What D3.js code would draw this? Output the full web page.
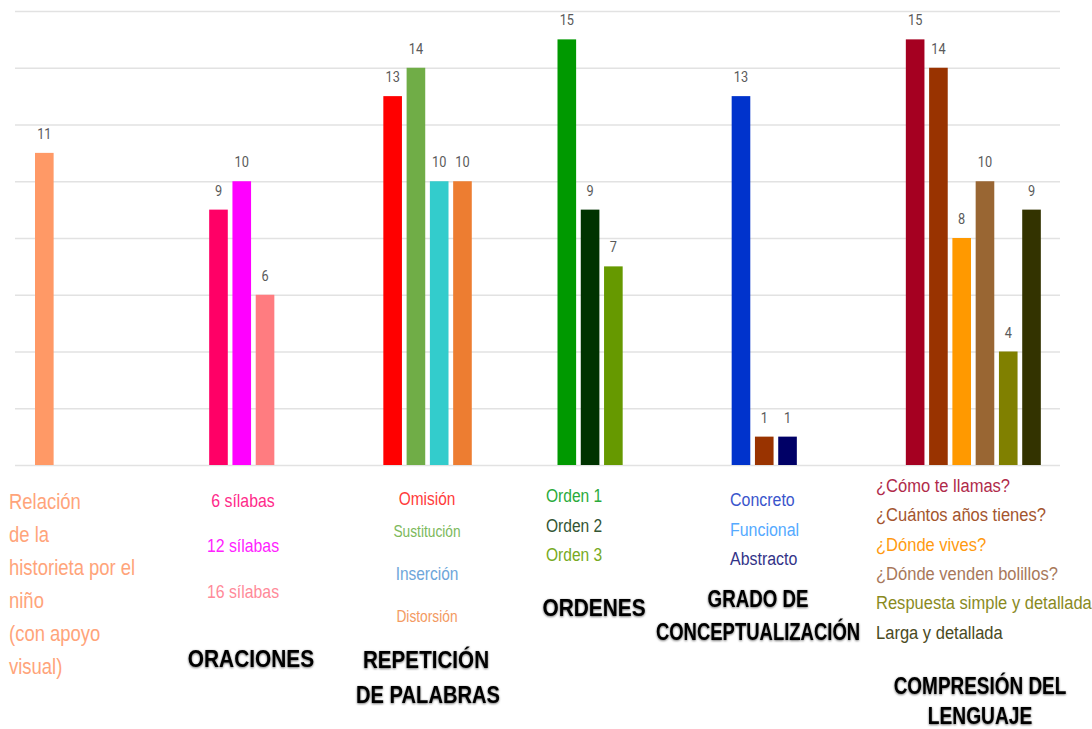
<!DOCTYPE html>
<html><head><meta charset="utf-8">
<script src="https://cdn.jsdelivr.net/npm/d3@7"></script>
<style>html,body{margin:0;padding:0;background:#fff;}svg{display:block;}</style>
</head><body>
<svg id="chart" width="1092" height="729"></svg>
<script>
// ---- data ----
const categories = ["Relación de la historieta por el niño (con apoyo visual)", "Oraciones", "Repetición de palabras", "Ordenes", "Grado de conceptualización", "Compresión del lenguaje"];
const relacionValues = [11];
const oracionesValues = [9, 10, 6];
const repeticionValues = [13, 14, 10, 10];
const ordenesValues = [15, 9, 7];
const gradoValues = [13, 1, 1];
const comprensionValues = [15, 14, 8, 10, 4, 9];

const relacionColors = ["#FF9966"];
const oracionesColors = ["#FF0066", "#FF00FF", "#FF7C80"];
const repeticionColors = ["#FF0000", "#70AD47", "#33CCCC", "#ED7D31"];
const ordenesColors = ["#009900", "#003300", "#669900"];
const gradoColors = ["#0033CC", "#993300", "#000066"];
const comprensionColors = ["#A50021", "#993300", "#FF9900", "#996633", "#808000", "#333300"];

const relacionLabel = ["Relación", "de la", "historieta por el", "niño", "(con apoyo", "visual)"];
const oracionesLabels = ["6 sílabas", "12 sílabas", "16 sílabas"];
const repeticionLabels = ["Omisión", "Sustitución", "Inserción", "Distorsión"];
const ordenesLabels = ["Orden 1", "Orden 2", "Orden 3"];
const gradoLabels = ["Concreto", "Funcional", "Abstracto"];
const comprensionLabels = ["¿Cómo te llamas?", "¿Cuántos años tienes?", "¿Dónde vives?", "¿Dónde venden bolillos?", "Respuesta simple y detallada", "Larga y detallada"];

const titles = [[], ["ORACIONES"], ["REPETICIÓN", "DE PALABRAS"], ["ORDENES"], ["GRADO DE", "CONCEPTUALIZACIÓN"], ["COMPRESIÓN DEL", "LENGUAJE"]];
const yTicks = [0, 2, 4, 6, 8, 10, 12, 14, 16];

const groupValues = [relacionValues, oracionesValues, repeticionValues, ordenesValues, gradoValues, comprensionValues];
const groupColors = [relacionColors, oracionesColors, repeticionColors, ordenesColors, gradoColors, comprensionColors];

// ---- layout ----
const svg = d3.select("#chart");
const defs = svg.append("defs");
const f = defs.append("filter").attr("id", "soft").attr("x", "-10%").attr("y", "-30%").attr("width", "120%").attr("height", "160%");
f.append("feDropShadow").attr("dx", 0).attr("dy", 0.8).attr("stdDeviation", 1.1).attr("flood-color", "#000").attr("flood-opacity", 0.6);

const plotLeft = 15, plotRight = 1060, plotTop = 11, plotBottom = 465;
const y = d3.scaleLinear().domain([0, 16]).range([plotBottom, plotTop]);
const x0 = d3.scaleBand().domain(categories).range([plotLeft, plotRight]).padding(0);
const x1 = d3.scaleBand().domain(d3.range(6)).range([20, 155]).paddingInner(0.2).paddingOuter(0);

// gridlines via axis
const yAxis = d3.axisLeft(y).tickValues(yTicks).tickSize(-(plotRight - plotLeft)).tickFormat("");
const ga = svg.append("g").attr("transform", `translate(${plotLeft},0)`).call(yAxis);
ga.select(".domain").remove();
ga.selectAll(".tick line").attr("stroke", "#e2e2e2").attr("stroke-width", 1.6);

// bars
categories.forEach((c, gi) => {
  const g = svg.append("g").attr("transform", `translate(${x0(c)},0)`);
  const vals = groupValues[gi];
  g.selectAll("rect").data(vals).join("rect")
    .attr("x", (d, i) => x1(i))
    .attr("y", d => y(d))
    .attr("width", x1.bandwidth())
    .attr("height", d => y(0) - y(d))
    .attr("fill", (d, i) => groupColors[gi][i]);
  g.selectAll("text.val").data(vals).join("text")
    .attr("class", "val")
    .attr("transform", (d, i) => `translate(${x1(i) + x1.bandwidth() / 2},${y(d) - 14}) scale(0.85,1)`)
    .attr("text-anchor", "middle")
    .style("font-family", "Roboto, 'Open Sans', sans-serif")
    .style("font-size", "15px")
    .attr("fill", "#5a5a5a")
    .text(d => d);
});

// text helper
function txt(x, yy, s, o) {
  const t = svg.append("text")
    .attr("transform", `translate(${x},${yy}) scale(${o.sx || 0.86},1)`)
    .attr("text-anchor", o.anchor || "start")
    .style("font-family", "'Liberation Sans', Arial, sans-serif")
    .style("font-size", o.size + "px")
    .style("font-weight", o.weight || 400)
    .attr("fill", o.color)
    .text(s);
  if (o.filter) t.attr("filter", o.filter);
  return t;
}
function title(x, yy, s, sx) {
  return txt(x, yy, s, {size: 24, weight: 700, color: "#000", anchor: "middle", sx: sx, filter: "url(#soft)"});
}

// group 1 label
relacionLabel.forEach((s, i) => txt(9, 509 + i * 33, s, {size: 22, color: "#FFA47A", sx: 0.84}));

// group 2
const orColors = ["#FF2A8A", "#FF22FF", "#FF8A99"];
const orY = [507, 552, 598];
oracionesLabels.forEach((s, i) => txt(243, orY[i], s, {size: 18, color: orColors[i], anchor: "middle", sx: 0.88}));
title(251, 667, titles[1][0], 0.87);

// group 3
const repColors = ["#FF3B3B", "#7DB95C", "#6EA6DA", "#F39A62"];
const repY = [505, 537, 580, 622];
const repSize = [18, 16, 18, 16];
repeticionLabels.forEach((s, i) => txt(427, repY[i], s, {size: repSize[i], color: repColors[i], anchor: "middle", sx: 0.86}));
title(426, 668, titles[2][0], 0.86);
title(428, 703, titles[2][1], 0.84);

// group 4
const ordColors = ["#2AAA3A", "#335533", "#77AA22"];
ordenesLabels.forEach((s, i) => txt(546, 502 + i * 29.5, s, {size: 19, color: ordColors[i], sx: 0.82}));
title(594, 616, titles[3][0], 0.87);

// group 5
const grColors = ["#3A55CC", "#55AAFF", "#333388"];
gradoLabels.forEach((s, i) => txt(730, 506 + i * 29.5, s, {size: 19, color: grColors[i], sx: 0.84}));
title(758, 607, titles[4][0], 0.78);
title(758, 640, titles[4][1], 0.77);

// group 6
const cpColors = ["#B02A4A", "#A4552E", "#FF9A10", "#A8785A", "#8A8A1E", "#4A4A22"];
comprensionLabels.forEach((s, i) => txt(876, 492 + i * 29.3, s, {size: 19, color: cpColors[i], sx: 0.87}));
title(980, 694, titles[5][0], 0.79);
title(980, 724, titles[5][1], 0.8);
</script>
</body></html>
